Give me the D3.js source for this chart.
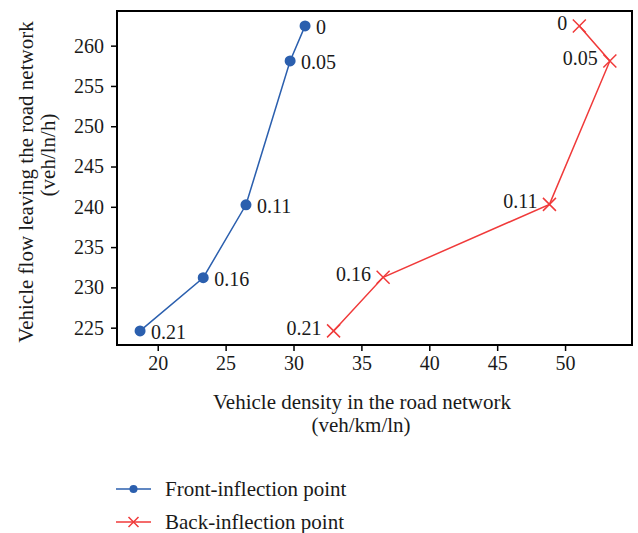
<!DOCTYPE html>
<html>
<head>
<meta charset="utf-8">
<script src="https://cdn.jsdelivr.net/npm/d3@7"></script>
<style>
  html, body { margin: 0; padding: 0; background: #fff; }
  svg text { font-family: "Liberation Serif", "DejaVu Serif", serif; fill: #1a1a1a; }
</style>
</head>
<body>
<svg id="chart" width="638" height="533"></svg>
<script>
// Inflection-point labels (ratio) and their coordinates
const ratios = ["0", "0.05", "0.11", "0.16", "0.21"];
const frontDensity = [30.85, 29.75, 26.5, 23.35, 18.7];
const frontFlow = [262.45, 258.1, 240.25, 231.2, 224.6];
const backDensity = [51.05, 53.3, 48.85, 36.6, 32.95];
const backFlow = [262.45, 258.1, 240.3, 231.25, 224.6];
const xTicks = [20, 25, 30, 35, 40, 45, 50];
const yTicks = [225, 230, 235, 240, 245, 250, 255, 260];
const seriesNames = ["Front-inflection point", "Back-inflection point"];

const blue = "#2b5fae";
const red = "#f03a3a";
const serif = '"Liberation Serif", "DejaVu Serif", serif';

const svg = d3.select("#chart");
const plotL = 117, plotR = 632, plotT = 11, plotB = 345;

const x = d3.scaleLinear().domain([17, 54.93]).range([plotL, plotR]);
const y = d3.scaleLinear().domain([222.85, 264.3]).range([plotB, plotT]);

// Axes
const xAxis = svg.append("g").attr("transform", `translate(0,${plotB})`)
  .call(d3.axisBottom(x).tickValues(xTicks).tickSize(6).tickSizeOuter(0).tickPadding(5));
const yAxis = svg.append("g").attr("transform", `translate(${plotL},0)`)
  .call(d3.axisLeft(y).tickValues(yTicks).tickSize(6).tickSizeOuter(0).tickPadding(7));
[xAxis, yAxis].forEach(a => {
  a.attr("font-family", serif).attr("font-size", 20);
  a.select(".domain").remove();
  a.selectAll(".tick line").attr("stroke", "#000").attr("stroke-width", 1.5);
  a.selectAll(".tick text").attr("fill", "#1a1a1a");
});

// Plot frame
svg.append("rect").attr("x", plotL).attr("y", plotT)
  .attr("width", plotR - plotL).attr("height", plotB - plotT)
  .attr("fill", "none").attr("stroke", "#000").attr("stroke-width", 2);

const front = ratios.map((r, i) => ({ r, x: frontDensity[i], y: frontFlow[i] }));
const back = ratios.map((r, i) => ({ r, x: backDensity[i], y: backFlow[i] }));

const line = d3.line().x(d => x(d.x)).y(d => y(d.y));

// Front-inflection series
svg.append("path").datum(front).attr("d", line)
  .attr("fill", "none").attr("stroke", blue).attr("stroke-width", 1.5);
svg.selectAll("circle.front").data(front).join("circle")
  .attr("class", "front").attr("cx", d => x(d.x)).attr("cy", d => y(d.y))
  .attr("r", 5.5).attr("fill", blue);
svg.selectAll("text.flab").data(front).join("text")
  .attr("class", "flab").attr("x", d => x(d.x) + 11).attr("y", d => y(d.y) + 1)
  .attr("dy", "0.35em").attr("font-size", 20).text(d => d.r);

// Back-inflection series
const cross = (g, cx, cy, s) => {
  g.append("path")
    .attr("d", `M${cx - s},${cy - s}L${cx + s},${cy + s}M${cx - s},${cy + s}L${cx + s},${cy - s}`)
    .attr("stroke", red).attr("stroke-width", 1.5).attr("fill", "none");
};
svg.append("path").datum(back).attr("d", line)
  .attr("fill", "none").attr("stroke", red).attr("stroke-width", 1.5);
const bm = svg.append("g");
back.forEach(d => cross(bm, x(d.x), y(d.y), 6.5));
svg.selectAll("text.blab").data(back).join("text")
  .attr("class", "blab").attr("x", d => x(d.x) - 12).attr("y", d => y(d.y) - 3)
  .attr("dy", "0.35em").attr("text-anchor", "end").attr("font-size", 20).text(d => d.r);

// Axis titles
svg.append("text").attr("x", 362).attr("y", 402).attr("dy", "0.35em")
  .attr("text-anchor", "middle").attr("font-size", 21)
  .text("Vehicle density in the road network");
svg.append("text").attr("x", 361).attr("y", 425).attr("dy", "0.35em")
  .attr("text-anchor", "middle").attr("font-size", 21)
  .text("(veh/km/ln)");
svg.append("text").attr("transform", "translate(26,182) rotate(-90)").attr("dy", "0.35em")
  .attr("text-anchor", "middle").attr("font-size", 21)
  .text("Vehicle flow leaving the road network");
svg.append("text").attr("transform", "translate(48,155) rotate(-90)").attr("dy", "0.35em")
  .attr("text-anchor", "middle").attr("font-size", 21)
  .text("(veh/ln/h)");

// Legend
const legY = [489, 522];
const lg = svg.append("g");
[blue, red].forEach((c, i) => {
  lg.append("line").attr("x1", 116).attr("x2", 151).attr("y1", legY[i]).attr("y2", legY[i])
    .attr("stroke", c).attr("stroke-width", 1.5);
  if (i === 0) {
    lg.append("circle").attr("cx", 133.5).attr("cy", legY[i]).attr("r", 4).attr("fill", c);
  } else {
    const s = 5;
    lg.append("path")
      .attr("d", `M${133.5 - s},${legY[i] - s}L${133.5 + s},${legY[i] + s}M${133.5 - s},${legY[i] + s}L${133.5 + s},${legY[i] - s}`)
      .attr("stroke", c).attr("stroke-width", 1.5);
  }
  lg.append("text").attr("x", 165).attr("y", legY[i]).attr("dy", "0.35em")
    .attr("font-size", 21).text(seriesNames[i]);
});
</script>
</body>
</html>
